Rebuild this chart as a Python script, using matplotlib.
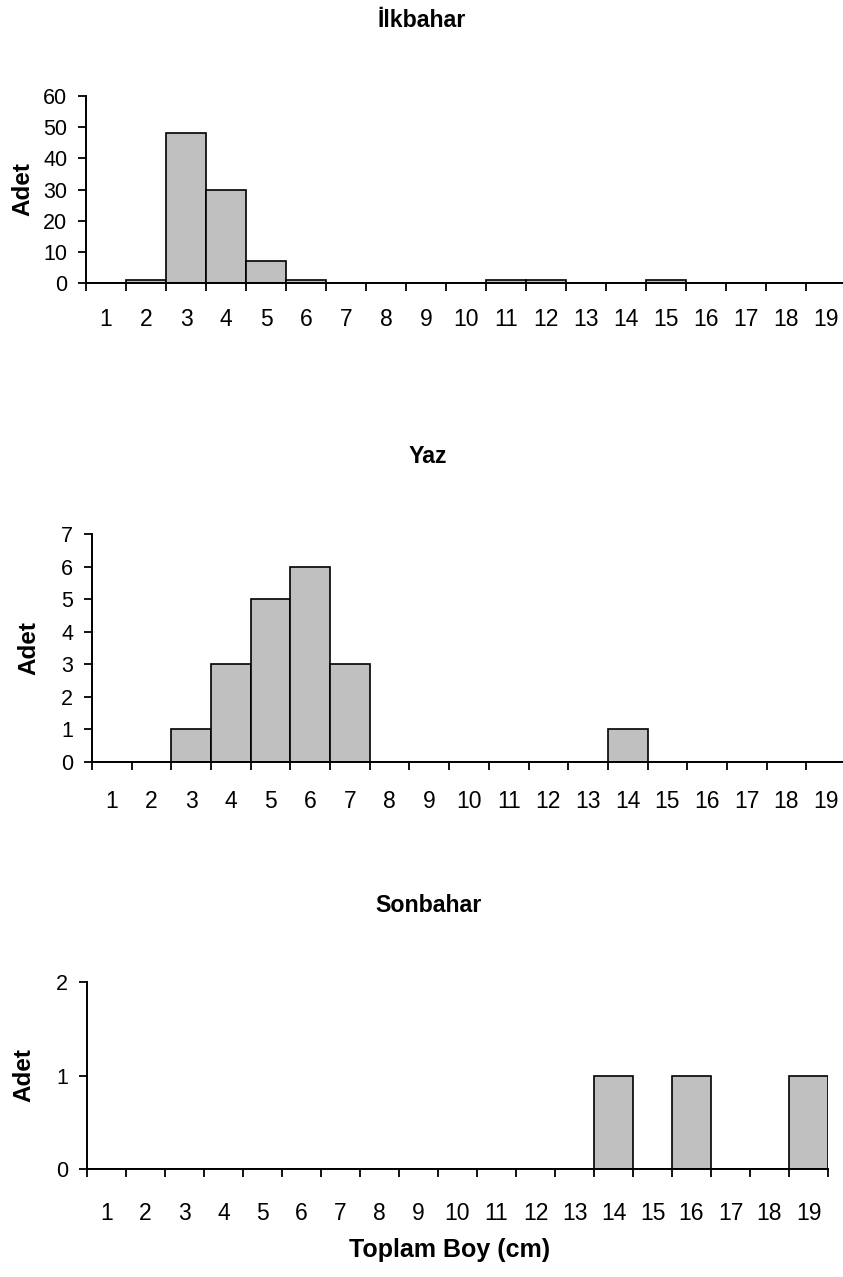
import matplotlib
matplotlib.use("Agg")
import matplotlib.pyplot as plt
import numpy as np

plt.rcParams['font.family'] = ['Liberation Sans', 'DejaVu Sans']

categories = list(range(1, 20))
ilkbahar = [0, 1, 48, 30, 7, 1, 0, 0, 0, 0, 1, 1, 0, 0, 1, 0, 0, 0, 0]
yaz = [0, 0, 1, 3, 5, 6, 3, 0, 0, 0, 0, 0, 0, 1, 0, 0, 0, 0, 0]
sonbahar = [0, 0, 0, 0, 0, 0, 0, 0, 0, 0, 0, 0, 0, 1, 0, 1, 0, 0, 1]

titles = ["İlkbahar", "Yaz", "Sonbahar"]
series = [ilkbahar, yaz, sonbahar]
yticks = [[0, 10, 20, 30, 40, 50, 60], [0, 1, 2, 3, 4, 5, 6, 7], [0, 1, 2]]

W, H = 843, 1277
fig = plt.figure(figsize=(W / 100, H / 100), dpi=100)

# pixel boxes: left, right, top(y of max), bottom(y of 0)
boxes = [(86, 846, 96, 283), (92, 846, 534, 762), (87, 828, 982, 1169)]
title_base = [27, 463, 912]
title_x = [422, 428, 428]
xpads = [12.5, 14.5, 18.0]

for title, vals, yt, (l, r, t, b), tb, tx, xp in zip(titles, series, yticks, boxes,
                                                     title_base, title_x, xpads):
    ax = fig.add_axes([l / W, 1 - b / H, (r - l) / W, (b - t) / H])
    ax.bar(categories, vals, width=1.0, color='#c0c0c0', edgecolor='black',
           linewidth=1.2, zorder=2)
    ax.set_xlim(0.5, 19.5)
    ax.set_ylim(yt[0], yt[-1])
    ax.set_yticks(yt)
    ax.set_yticklabels([str(v) for v in yt], fontsize=15.5)
    ax.set_xticks(np.arange(0.5, 20.5, 1.0))
    ax.set_xticklabels([])
    ax.set_xticks(categories, minor=True)
    ax.set_xticklabels([str(c) for c in categories], minor=True, fontsize=16.5)
    ax.tick_params(axis='x', which='major', direction='out', length=5.5, width=1.3)
    ax.tick_params(axis='x', which='minor', length=0, pad=xp + 5.5)
    ax.tick_params(axis='y', direction='out', length=5.5, width=1.3, pad=8)
    for s in ('top', 'right'):
        ax.spines[s].set_visible(False)
    for s in ('left', 'bottom'):
        ax.spines[s].set_linewidth(1.4)
    ax.spines['bottom'].set_zorder(3)
    fig.text((l - 63) / W, 1 - ((t + b) / 2) / H, "Adet", rotation=90,
             ha='center', va='center', fontsize=17.5, fontweight='bold')
    fig.text(tx / W, 1 - tb / H, title, ha='center', va='baseline',
             fontsize=16.7, fontweight='bold')

fig.text(450 / W, 1 - 1257 / H, "Toplam Boy (cm)", ha='center', va='baseline',
         fontsize=18, fontweight='bold')

fig.savefig("out.png", dpi=100, facecolor='white')
